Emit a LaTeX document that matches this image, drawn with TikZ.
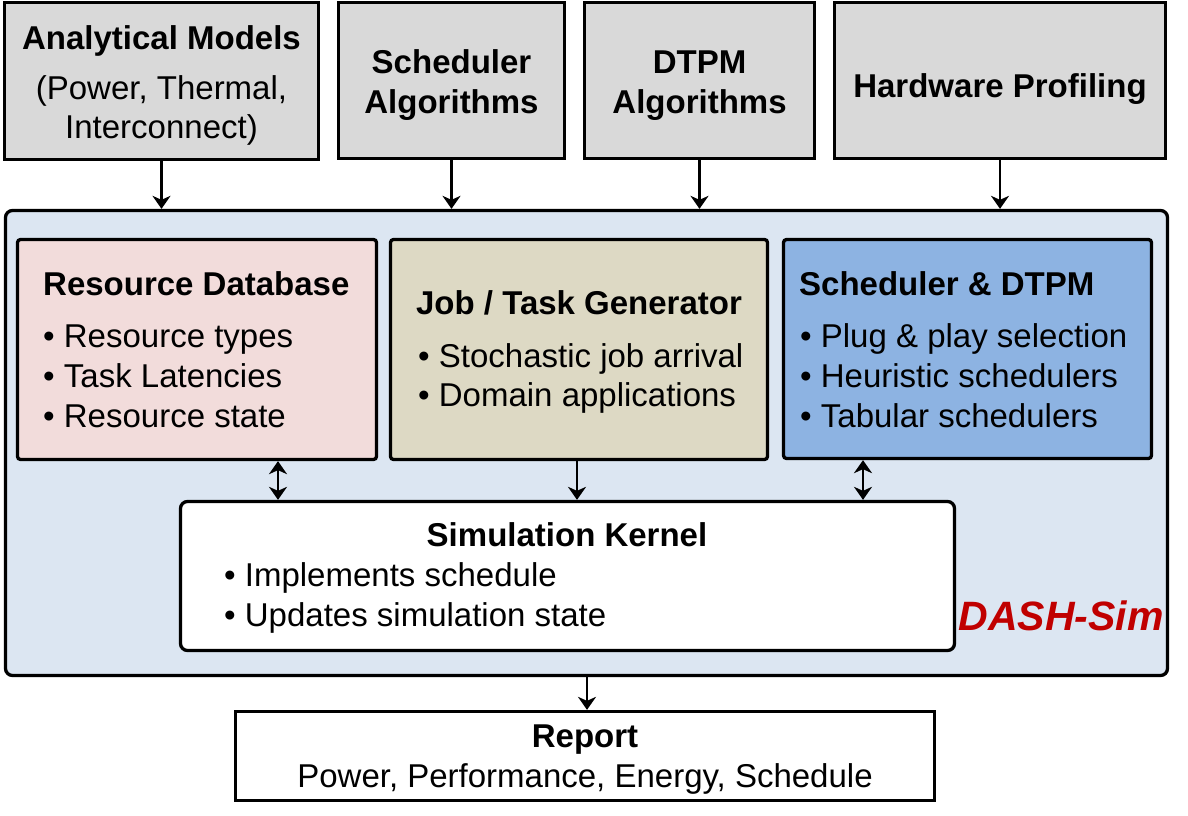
\documentclass[tikz,border=0pt]{standalone}
\usepackage{fontspec}
\setmainfont{Liberation Sans}
\usetikzlibrary{arrows.meta}
\definecolor{gboxc}{HTML}{D9D9D9}
\definecolor{contc}{HTML}{DCE6F2}
\definecolor{rdbc}{HTML}{F2DCDB}
\definecolor{jtgc}{HTML}{DDD9C4}
\definecolor{schc}{HTML}{8DB3E2}
\definecolor{dashc}{HTML}{C00000}
\tikzset{
  frame/.style={draw=black, line width=3.3pt, inner sep=0pt},
  ttl/.style={inner sep=0pt, font=\fontsize{33}{40}\selectfont\bfseries, anchor=base},
  txt/.style={inner sep=0pt, font=\fontsize{33}{40}\selectfont, anchor=base},
  btxt/.style={inner sep=0pt, font=\fontsize{33}{40}\selectfont, anchor=base west},
  arr/.style={line width=2.5pt, -{Stealth[length=13pt,width=18pt,inset=4pt]}},
  darr/.style={line width=2.5pt, {Stealth[length=13pt,width=18pt,inset=4pt]}-{Stealth[length=13pt,width=18pt,inset=4pt]}},
}
\begin{document}
\begin{tikzpicture}[x=1pt,y=-1pt]
\useasboundingbox (0,0) rectangle (1188,816);
% top boxes
\node[frame, fill=gboxc, minimum width=314pt, minimum height=157pt] (am) at (161.5,81) {};
\node[frame, fill=gboxc, minimum width=226pt, minimum height=156pt] (sa) at (451.5,80.5) {};
\node[frame, fill=gboxc, minimum width=230pt, minimum height=156pt] (dt) at (699.5,80.5) {};
\node[frame, fill=gboxc, minimum width=331pt, minimum height=156pt] (hp) at (1000,80.5) {};
\node[ttl] (amT) at (161.5,50) {Analytical Models};
\node[txt] (amS1) at (161.5,99) {(Power, Thermal,};
\node[txt] (amS2) at (161.5,138) {Interconnect)};
\node[ttl] (saT1) at (451.5,74) {Scheduler};
\node[ttl] (saT2) at (451.5,113) {Algorithms};
\node[ttl] (dtT1) at (699.5,74) {DTPM};
\node[ttl] (dtT2) at (699.5,113) {Algorithms};
\node[ttl] (hpT) at (1000,97) {Hardware Profiling};
% container
\node[frame, fill=contc, rounded corners=7pt, minimum width=1162pt, minimum height=465pt] (cont) at (586.5,443) {};
% inner boxes
\node[frame, fill=rdbc, rounded corners=3pt, minimum width=359pt, minimum height=220pt] (rdb) at (197,349.5) {};
\node[frame, fill=jtgc, rounded corners=3pt, minimum width=377pt, minimum height=220pt] (jtg) at (579,349.5) {};
\node[frame, fill=schc, rounded corners=3pt, minimum width=368pt, minimum height=219pt] (sch) at (967.5,349) {};
\node[frame, fill=white, rounded corners=7pt, minimum width=774pt, minimum height=149pt] (sk) at (567.5,576) {};
\node[frame, fill=white, minimum width=699pt, minimum height=89pt] (rep) at (585,756) {};
% texts
\node[ttl, anchor=base west] (rdbT) at (43,295) {Resource Database};
\node[btxt] (rdb1) at (43,347) {• Resource types};
\node[btxt] (rdb2) at (43,387) {• Task Latencies};
\node[btxt] (rdb3) at (43,427) {• Resource state};
\node[ttl] (jtgT) at (579,314) {Job / Task Generator};
\node[btxt] (jtg1) at (418,367) {• Stochastic job arrival};
\node[btxt] (jtg2) at (418,406) {• Domain applications};
\node[ttl, anchor=base west] (schT) at (799,295) {Scheduler \& DTPM};
\node[btxt] (sch1) at (800,347) {• Plug \& play selection};
\node[btxt] (sch2) at (800,387) {• Heuristic schedulers};
\node[btxt] (sch3) at (800,427) {• Tabular schedulers};
\node[ttl] (skT) at (567,546) {Simulation Kernel};
\node[btxt] (sk1) at (224,586) {• Implements schedule};
\node[btxt] (sk2) at (224,626) {• Updates simulation state};
\node[ttl] (repT) at (585,747) {Report};
\node[txt] (repS) at (585,787) {Power, Performance, Energy, Schedule};
\node[inner sep=0pt, anchor=base east, text=dashc, font=\fontsize{41}{46}\selectfont\bfseries\itshape] (dash) at (1164,630) {DASH-Sim};
% arrows
\draw[arr] (am.south) -- (am.south |- cont.north);
\draw[arr] (sa.south) -- (sa.south |- cont.north);
\draw[arr] (dt.south) -- (dt.south |- cont.north);
\draw[arr] (hp.south) -- (hp.south |- cont.north);
\draw[darr] ([xshift=81pt]rdb.south) -- ([xshift=81pt]rdb.south |- sk.north);
\draw[arr] ([xshift=-2pt]jtg.south) -- ([xshift=-2pt]jtg.south |- sk.north);
\draw[darr] ([xshift=-104.5pt]sch.south) -- ([xshift=-104.5pt]sch.south |- sk.north);
\draw[arr] ([xshift=0.5pt]cont.south) -- ([xshift=0.5pt]cont.south |- rep.north);
\end{tikzpicture}
\end{document}
